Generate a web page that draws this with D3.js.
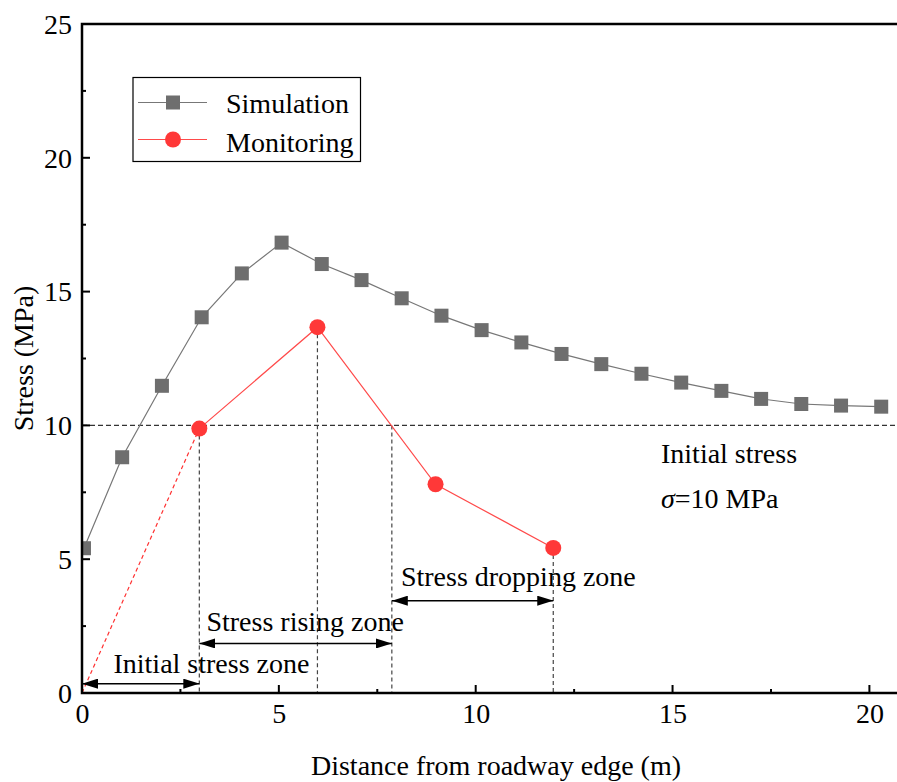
<!DOCTYPE html>
<html>
<head>
<meta charset="utf-8">
<script src="https://cdn.jsdelivr.net/npm/d3@7"></script>
<style>
  html, body { margin: 0; padding: 0; background: #fff; }
  svg { display: block; }
  text { font-family: "Liberation Serif", "Times New Roman", serif; fill: #000; }
</style>
</head>
<body>
<svg id="chart" width="897" height="782"></svg>
<script>
// ---- data ----
const simX = [0.05, 1.02, 2.03, 3.04, 4.06, 5.07, 6.09, 7.1, 8.12, 9.13, 10.15, 11.16, 12.18, 13.19, 14.21, 15.22, 16.24, 17.25, 18.27, 19.28, 20.3];
const simY = [5.41, 8.81, 11.48, 14.04, 15.68, 16.83, 16.03, 15.43, 14.75, 14.10, 13.56, 13.10, 12.67, 12.29, 11.93, 11.60, 11.29, 10.99, 10.80, 10.74, 10.70];
const monX = [2.98, 5.98, 8.98, 11.97];
const monY = [9.88, 13.67, 7.8, 5.42];
const extrapX = [0, 2.98];
const extrapY = [0, 9.88];
const initialStress = 10;
const crossX = 7.87;
const xTicks = [0, 5, 10, 15, 20];
const yTicks = [0, 5, 10, 15, 20, 25];
const xMinor = [2.5, 7.5, 12.5, 17.5];
const yMinor = [2.5, 7.5, 12.5, 17.5, 22.5];
const zones = [
  { label: "Initial stress zone", x0: 0, x1: 2.98, y: 0.35, tx: 0.8, ty: 0.75 },
  { label: "Stress rising zone", x0: 2.98, x1: 7.87, y: 1.85, tx: 3.16, ty: 2.3 },
  { label: "Stress dropping zone", x0: 7.87, x1: 11.97, y: 3.45, tx: 8.1, ty: 4.0 }
];

// ---- layout ----
const L = 82, T = 24, B = 693;
const x = d3.scaleLinear().domain([0, 21]).range([L, L + 21 * 39.37]);
const y = d3.scaleLinear().domain([0, 25]).range([B, T]);
const R = x(21);

const svg = d3.select("#chart");
const defs = svg.append("defs");
defs.append("clipPath").attr("id", "clip").append("rect")
  .attr("x", L).attr("y", T).attr("width", R - L).attr("height", B - T);
defs.append("marker").attr("id", "arrow").attr("viewBox", "0 0 16 10")
  .attr("refX", 16).attr("refY", 5).attr("markerWidth", 16).attr("markerHeight", 10)
  .attr("markerUnits", "userSpaceOnUse").attr("orient", "auto-start-reverse")
  .append("path").attr("d", "M0,0 L16,5 L0,10 Z").attr("fill", "#000");

const plot = svg.append("g").attr("clip-path", "url(#clip)");

// reference dashed lines
plot.append("line")
  .attr("x1", x(0)).attr("x2", R).attr("y1", y(initialStress)).attr("y2", y(initialStress))
  .attr("stroke", "#333").attr("stroke-width", 1.2).attr("stroke-dasharray", "5,3");

const vlines = [
  { xv: monX[0], yv: monY[0] },
  { xv: monX[1], yv: monY[1] },
  { xv: crossX, yv: initialStress },
  { xv: monX[3], yv: monY[3] }
];
plot.selectAll(".vl").data(vlines).enter().append("line")
  .attr("x1", d => x(d.xv)).attr("x2", d => x(d.xv))
  .attr("y1", d => y(d.yv)).attr("y2", y(0))
  .attr("stroke", "#444").attr("stroke-width", 1.2).attr("stroke-dasharray", "4,3");

// red extrapolation
plot.append("line")
  .attr("x1", x(extrapX[0])).attr("y1", y(extrapY[0]))
  .attr("x2", x(extrapX[1])).attr("y2", y(extrapY[1]))
  .attr("stroke", "#ff3030").attr("stroke-width", 1.2).attr("stroke-dasharray", "4,3");

// simulation
const line = d3.line().x(d => x(d[0])).y(d => y(d[1]));
const simData = simX.map((v, i) => [v, simY[i]]);
const monData = monX.map((v, i) => [v, monY[i]]);
plot.append("path").attr("d", line(simData)).attr("fill", "none")
  .attr("stroke", "#777").attr("stroke-width", 1.2);
plot.selectAll(".sq").data(simData).enter().append("rect")
  .attr("x", d => x(d[0]) - 7).attr("y", d => y(d[1]) - 7)
  .attr("width", 14).attr("height", 14).attr("fill", "#6e6e6e");

// monitoring
plot.append("path").attr("d", line(monData)).attr("fill", "none")
  .attr("stroke", "#ff4a4a").attr("stroke-width", 1.2);
plot.selectAll(".ci").data(monData).enter().append("circle")
  .attr("cx", d => x(d[0])).attr("cy", d => y(d[1])).attr("r", 8)
  .attr("fill", "#ff3838");

// zone arrows
zones.forEach(z => {
  svg.append("line")
    .attr("x1", x(z.x0)).attr("x2", x(z.x1)).attr("y1", y(z.y)).attr("y2", y(z.y))
    .attr("stroke", "#000").attr("stroke-width", 1.5)
    .attr("marker-start", "url(#arrow)").attr("marker-end", "url(#arrow)");
  svg.append("text").attr("x", x(z.tx)).attr("y", y(z.ty))
    .attr("font-size", 28).text(z.label);
});

// annotation
svg.append("text").attr("x", 661).attr("y", 463).attr("font-size", 28).text("Initial stress");
const sig = svg.append("text").attr("x", 661).attr("y", 508).attr("font-size", 28);
sig.append("tspan").attr("font-style", "italic").text("σ");
sig.append("tspan").text("=10 MPa");

// axes
const ax = svg.append("g").attr("transform", `translate(0,${B})`)
  .call(d3.axisBottom(x).tickValues(xTicks).tickSize(0).tickPadding(0).tickFormat(d3.format("d")));
ax.select(".domain").remove();
ax.selectAll("text").attr("font-size", 28).attr("font-family", "Liberation Serif").attr("dy", 0).attr("y", 30);

const ay = svg.append("g").attr("transform", `translate(${L},0)`)
  .call(d3.axisLeft(y).tickValues(yTicks).tickSize(0).tickPadding(10).tickFormat(d3.format("d")));
ay.select(".domain").remove();
ay.selectAll("text").attr("font-size", 28).attr("font-family", "Liberation Serif").attr("dy", "0.33em");

// frame
svg.append("rect").attr("x", L).attr("y", T).attr("width", R - L).attr("height", B - T)
  .attr("fill", "none").attr("stroke", "#000").attr("stroke-width", 2.5);

// ticks (inward)
const tk = svg.append("g").attr("stroke", "#000").attr("stroke-width", 2);
xTicks.forEach(v => tk.append("line").attr("x1", x(v)).attr("x2", x(v)).attr("y1", B).attr("y2", B - 8));
xMinor.forEach(v => tk.append("line").attr("x1", x(v)).attr("x2", x(v)).attr("y1", B).attr("y2", B - 4));
yTicks.forEach(v => tk.append("line").attr("x1", L).attr("x2", L + 8).attr("y1", y(v)).attr("y2", y(v)));
yMinor.forEach(v => tk.append("line").attr("x1", L).attr("x2", L + 4).attr("y1", y(v)).attr("y2", y(v)));

// axis titles
svg.append("text").attr("x", 496).attr("y", 775).attr("text-anchor", "middle")
  .attr("font-size", 28).text("Distance from roadway edge (m)");
svg.append("text").attr("transform", `translate(33,${(T + B) / 2}) rotate(-90)`)
  .attr("text-anchor", "middle").attr("font-size", 28).text("Stress (MPa)");

// legend
const lg = svg.append("g");
lg.append("rect").attr("x", 133).attr("y", 77.5).attr("width", 227.5).attr("height", 84)
  .attr("fill", "#fff").attr("stroke", "#000").attr("stroke-width", 1.2);
lg.append("line").attr("x1", 138).attr("x2", 207).attr("y1", 102.5).attr("y2", 102.5)
  .attr("stroke", "#777").attr("stroke-width", 1.2);
lg.append("rect").attr("x", 166).attr("y", 95.5).attr("width", 14).attr("height", 14).attr("fill", "#6e6e6e");
lg.append("text").attr("x", 226).attr("y", 113).attr("font-size", 28).text("Simulation");
lg.append("line").attr("x1", 138).attr("x2", 207).attr("y1", 139.5).attr("y2", 139.5)
  .attr("stroke", "#ff4a4a").attr("stroke-width", 1.2);
lg.append("circle").attr("cx", 173).attr("cy", 139.5).attr("r", 8).attr("fill", "#ff3838");
lg.append("text").attr("x", 226).attr("y", 152).attr("font-size", 28).text("Monitoring");
</script>
</body>
</html>
